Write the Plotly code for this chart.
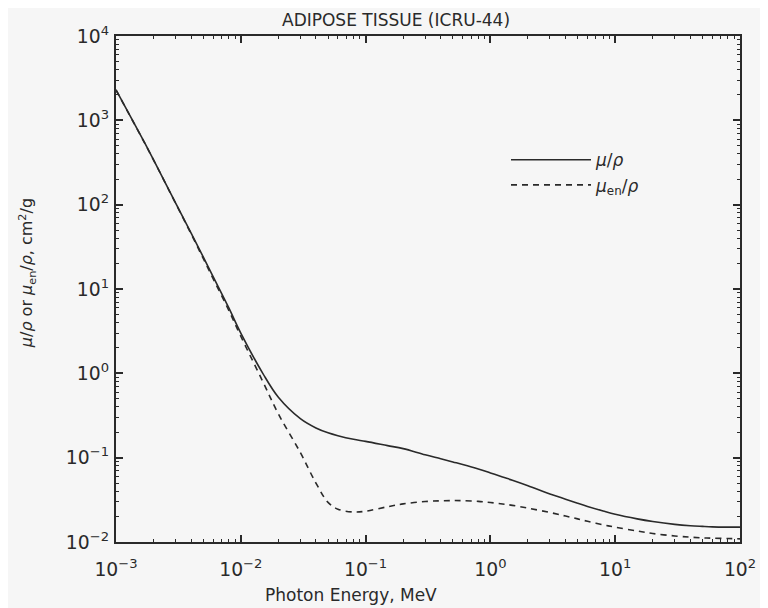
import plotly.graph_objects as go

energy_mev = [0.001, 0.0015, 0.002, 0.003, 0.004, 0.005, 0.006, 0.008, 0.01, 0.015,
              0.02, 0.03, 0.04, 0.05, 0.06, 0.08, 0.1, 0.15, 0.2, 0.3, 0.4, 0.5,
              0.6, 0.8, 1.0, 1.25, 1.5, 2.0, 3.0, 4.0, 5.0, 6.0, 8.0, 10.0, 15.0,
              20.0, 30.0, 40.0, 50.0, 60.0, 80.0, 100.0]

mu_rho = [2300, 760, 340, 105, 46, 24, 14, 6.0, 3.0, 1.0,
          0.52, 0.29, 0.225, 0.197, 0.182, 0.165, 0.156, 0.139, 0.128, 0.108, 0.097, 0.089,
          0.083, 0.0735, 0.066, 0.059, 0.054, 0.0465, 0.0372, 0.0322, 0.0288, 0.0264, 0.0233, 0.0213, 0.0188,
          0.0175, 0.0162, 0.0156, 0.0153, 0.0151, 0.0150, 0.0150]

mu_en_rho = [2290, 755, 338, 104, 45, 23, 13.3, 5.6, 2.75, 0.80,
             0.33, 0.115, 0.050, 0.0295, 0.0245, 0.0227, 0.0232, 0.0262, 0.0283, 0.0302, 0.0308, 0.0310,
             0.0309, 0.0303, 0.0294, 0.0282, 0.0272, 0.0252, 0.0224, 0.0203, 0.0188, 0.0176, 0.0160, 0.0150, 0.0135,
             0.0126, 0.0118, 0.0114, 0.0112, 0.0111, 0.0110, 0.0109]

series_names = ["<i>μ</i>/<i>ρ</i>", "<i>μ</i><sub>en</sub>/<i>ρ</i>"]

# Plotly prints 10^0 and 10^1 as "1" and "10"; alias them to power notation
tick_label_alias = {"1": "10<sup>0</sup>", "10": "10<sup>1</sup>"}

title_text = "ADIPOSE TISSUE (ICRU-44)"
x_title = "Photon Energy, MeV"
y_title = "<i>μ</i>/<i>ρ</i> or <i>μ</i><sub>en</sub>/<i>ρ</i>, cm<sup>2</sup>/g"

ink = "#2a2a2a"
bg = "#f6f6f6"
font_family = "DejaVu Sans"

fig = go.Figure()
fig.add_trace(go.Scatter(x=energy_mev, y=mu_rho, mode="lines", name=series_names[0],
                         line=dict(color=ink, width=1.6, shape="spline", smoothing=1.0)))
fig.add_trace(go.Scatter(x=energy_mev, y=mu_en_rho, mode="lines", name=series_names[1],
                         line=dict(color=ink, width=1.6, dash="6px,5px", shape="spline", smoothing=1.0)))

axis_common = dict(
    type="log", showgrid=False, zeroline=False,
    showline=True, linecolor=ink, linewidth=2, mirror="allticks",
    ticks="inside", ticklen=7, tickwidth=1.5, tickcolor=ink,
    dtick=1, exponentformat="power", labelalias=tick_label_alias,
    tickfont=dict(family=font_family, size=15, color=ink),
    ticklabeloverflow="allow",
    minor=dict(ticks="inside", ticklen=3, tickwidth=1, tickcolor=ink, dtick="D1", showgrid=False),
)

fig.update_xaxes(range=[-3, 2], ticklabelstandoff=10, **axis_common)
fig.update_yaxes(range=[-2, 4], ticklabelstandoff=2, **axis_common)

# The page body has an 8px default margin, so the figure is sized 8px smaller
fig.update_layout(
    width=760, height=600,
    margin=dict(l=108, r=18, t=28, b=66),
    paper_bgcolor=bg, plot_bgcolor=bg,
    font=dict(family=font_family, color=ink),
    showlegend=True,
    legend=dict(x=0.625, y=0.79, xanchor="left", yanchor="top",
                bgcolor="rgba(0,0,0,0)", borderwidth=0,
                font=dict(family=font_family, size=17, color=ink),
                tracegroupgap=0, itemwidth=80),
    annotations=[
        dict(text=title_text, xref="paper", yref="paper", x=0.448, y=1.032,
             xanchor="center", yanchor="middle", showarrow=False,
             font=dict(family=font_family, size=17, color=ink)),
        dict(text=x_title, xref="paper", yref="paper", x=0.377, y=-0.105,
             xanchor="center", yanchor="middle", showarrow=False,
             font=dict(family=font_family, size=17, color=ink)),
        dict(text=y_title, xref="paper", yref="paper", x=-0.142, y=0.532,
             xanchor="center", yanchor="middle", showarrow=False, textangle=-90,
             font=dict(family=font_family, size=16, color=ink)),
    ],
)

fig.write_html("out.html")
